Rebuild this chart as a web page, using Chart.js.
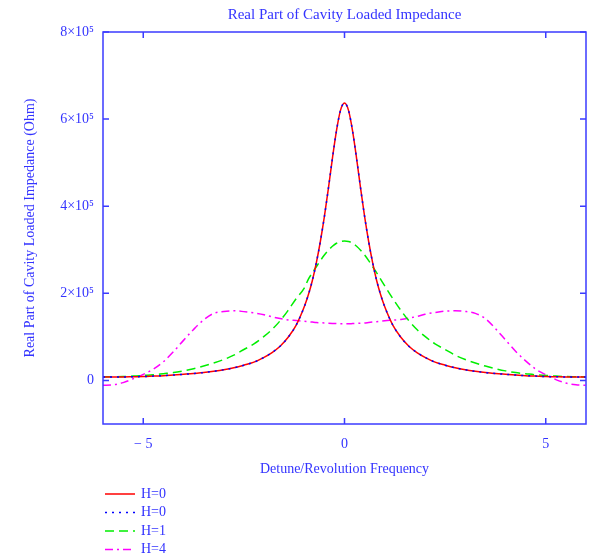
<!DOCTYPE html>
<html>
<head>
<meta charset="utf-8">
<script src="https://cdn.jsdelivr.net/npm/chart.js@4.4.1/dist/chart.umd.min.js"></script>
<style>
  html, body { margin:0; padding:0; background:#fff; }
  #wrap { width:592px; height:556px; }
</style>
</head>
<body>
<div id="wrap"><canvas id="cav" width="592" height="556"></canvas></div>
<script>
/* Real part of the cavity loaded impedance vs detune,
   one curve per feedback gain H */

// detune in units of the revolution frequency
const DETUNE = [
  -6, -5.75, -5.5, -5.25, -5, -4.75, -4.5, -4.25, -4, -3.75, -3.5, -3.25, -3, -2.75, -2.5, -2.25,
  -2, -1.8, -1.6, -1.4, -1.2, -1, -0.9, -0.8, -0.7, -0.6, -0.5, -0.4, -0.3, -0.2, -0.1,
  0,
  0.1, 0.2, 0.3, 0.4, 0.5, 0.6, 0.7, 0.8, 0.9, 1, 1.2, 1.4, 1.6, 1.8, 2,
  2.25, 2.5, 2.75, 3, 3.25, 3.5, 3.75, 4, 4.25, 4.5, 4.75, 5, 5.25, 5.5, 5.75, 6
];

// Re(Z) in Ohm, H = 0
const RE_H0 = [
  8000, 8000, 8000, 8500, 9000, 10000, 11000, 12500, 14000, 16000, 18000, 21000, 24500, 29000, 35000, 42000,
  53000, 64000, 78500, 99000, 127000, 169000, 196000, 229000, 270000, 319000, 376000, 441000, 510000, 573000, 620000,
  637000,
  620000, 573000, 510000, 441000, 376000, 319000, 270000, 229000, 196000, 169000, 127000, 99000, 78500, 64000, 53000,
  42000, 35000, 29000, 24500, 21000, 18000, 16000, 14000, 12500, 11000, 10000, 9000, 8500, 8000, 8000, 8000
];

// Re(Z) in Ohm, H = 1
const RE_H1 = [
  8000, 8500, 9000, 10000, 11500, 13000, 15500, 18000, 22000, 27000, 33000, 40000, 48000, 58000, 71000, 84000,
  101000, 117000, 137000, 161000, 188000, 212000, 232000, 247000, 261000, 275000, 288000, 299000, 308000, 315000, 319000,
  320000,
  319000, 315000, 308000, 299000, 288000, 275000, 261000, 247000, 232000, 217000, 188000, 161000, 137000, 117000, 101000,
  84000, 71000, 58000, 48000, 40000, 33000, 27000, 22000, 18000, 15500, 13000, 11500, 10000, 9000, 8500, 8000
];

// Re(Z) in Ohm, H = 4
const RE_H4 = [
  -11000, -10000, -5000, 4000, 14000, 26000, 43000, 66000, 92000, 117000, 139000, 154000, 158500, 160000, 158000, 155000,
  151000, 146000, 142000, 139000, 137500, 136000, 135000, 134000, 133000, 132500, 132000, 131500, 131000, 130500, 130000,
  130000,
  130000, 130500, 131000, 131500, 132000, 133000, 134000, 135000, 136000, 137000, 138500, 140000, 143000, 147000, 152000,
  156000, 159000, 160000, 158500, 154000, 142000, 119000, 93000, 67000, 45000, 26000, 13000, 2000, -6000, -10000, -11000
];

const X_TICKS = [-5, 0, 5];
const Y_TICKS = [0, 200000, 400000, 600000, 800000];

const TITLE   = 'Real Part of Cavity Loaded Impedance';
const X_TITLE = 'Detune/Revolution Frequency';
const Y_TITLE = 'Real Part of Cavity Loaded Impedance (Ohm)';

const INK   = '#3333ff';
const FRAME = '#3b3bff';
const SERIF = '"Liberation Serif", "Times New Roman", serif';

const pts = (ys) => DETUNE.map((x, i) => ({ x, y: ys[i] }));

function yLabel(v){
  if (v === 0) return '0';
  return (v / 1e5) + '\u00d710\u2075';
}
function xLabel(v){
  if (v < 0) return '\u2212 ' + Math.abs(v);
  return String(v);
}

// frame with inward ticks on all four sides, title and the curve key
const framePlugin = {
  id: 'frame',
  afterDraw(chart){
    const { ctx, chartArea: a, scales } = chart;
    const tl = 6;
    ctx.save();
    ctx.strokeStyle = FRAME;
    ctx.lineWidth = 1.5;
    ctx.setLineDash([]);
    ctx.strokeRect(a.left, a.top, a.right - a.left, a.bottom - a.top);

    ctx.beginPath();
    X_TICKS.forEach(v => {
      const px = scales.x.getPixelForValue(v);
      ctx.moveTo(px, a.bottom); ctx.lineTo(px, a.bottom - tl);
      ctx.moveTo(px, a.top);    ctx.lineTo(px, a.top + tl);
    });
    Y_TICKS.forEach(v => {
      const py = scales.y.getPixelForValue(v);
      ctx.moveTo(a.left, py);  ctx.lineTo(a.left + tl, py);
      ctx.moveTo(a.right, py); ctx.lineTo(a.right - tl, py);
    });
    ctx.stroke();

    // title
    ctx.fillStyle = INK;
    ctx.font = '15px ' + SERIF;
    ctx.textAlign = 'center';
    ctx.textBaseline = 'middle';
    ctx.fillText(TITLE, (a.left + a.right) / 2, 15);

    // key, one row per dataset
    ctx.font = '14px ' + SERIF;
    ctx.textAlign = 'left';
    chart.data.datasets.forEach((ds, i) => {
      const y = 494 + i * 18.5;
      ctx.strokeStyle = ds.borderColor;
      ctx.lineWidth = ds.borderWidth;
      ctx.setLineDash(ds.borderDash || []);
      ctx.beginPath();
      ctx.moveTo(105, y); ctx.lineTo(135, y);
      ctx.stroke();
      ctx.fillStyle = INK;
      ctx.fillText(ds.label, 141, y);
    });
    ctx.restore();
  }
};

const line = (label, data, color, dash, order) => ({
  label, data: pts(data),
  borderColor: color, borderWidth: 1.5, borderDash: dash,
  pointRadius: 0, fill: false, cubicInterpolationMode: 'monotone',
  order
});

new Chart(document.getElementById('cav'), {
  type: 'line',
  data: {
    datasets: [
      line('H=0', RE_H0, '#ff0000', [], 1),
      line('H=0', RE_H0, '#0000ff', [2, 5], 0),
      line('H=1', RE_H1, '#00ee00', [9, 5], 2),
      line('H=4', RE_H4, '#ff00ff', [8, 4, 2, 4], 3)
    ]
  },
  plugins: [framePlugin],
  options: {
    responsive: false,
    animation: false,
    layout: { padding: { left: 0, right: 6, top: 32, bottom: 72 } },
    plugins: { legend: { display: false }, title: { display: false }, tooltip: { enabled: false } },
    scales: {
      x: {
        type: 'linear', min: -6, max: 6,
        afterBuildTicks: s => { s.ticks = X_TICKS.map(v => ({ value: v })); },
        afterFit: s => { s.height = 60; },
        grid: { display: false },
        border: { display: false },
        ticks: { color: INK, font: { family: SERIF, size: 14 }, padding: 4, maxRotation: 0, callback: xLabel },
        title: { display: true, text: X_TITLE, color: INK, font: { family: SERIF, size: 14 }, padding: { top: 0, bottom: 6 } }
      },
      y: {
        type: 'linear', min: -100000, max: 800000,
        afterBuildTicks: s => { s.ticks = Y_TICKS.map(v => ({ value: v })); },
        afterFit: s => { s.width = 103; },
        grid: { display: false },
        border: { display: false },
        ticks: { color: INK, font: { family: SERIF, size: 14 }, padding: 1, callback: yLabel },
        title: { display: true, text: Y_TITLE, color: INK, font: { family: SERIF, size: 14 }, padding: { top: 22, bottom: 0 } }
      }
    }
  }
});
</script>
</body>
</html>
